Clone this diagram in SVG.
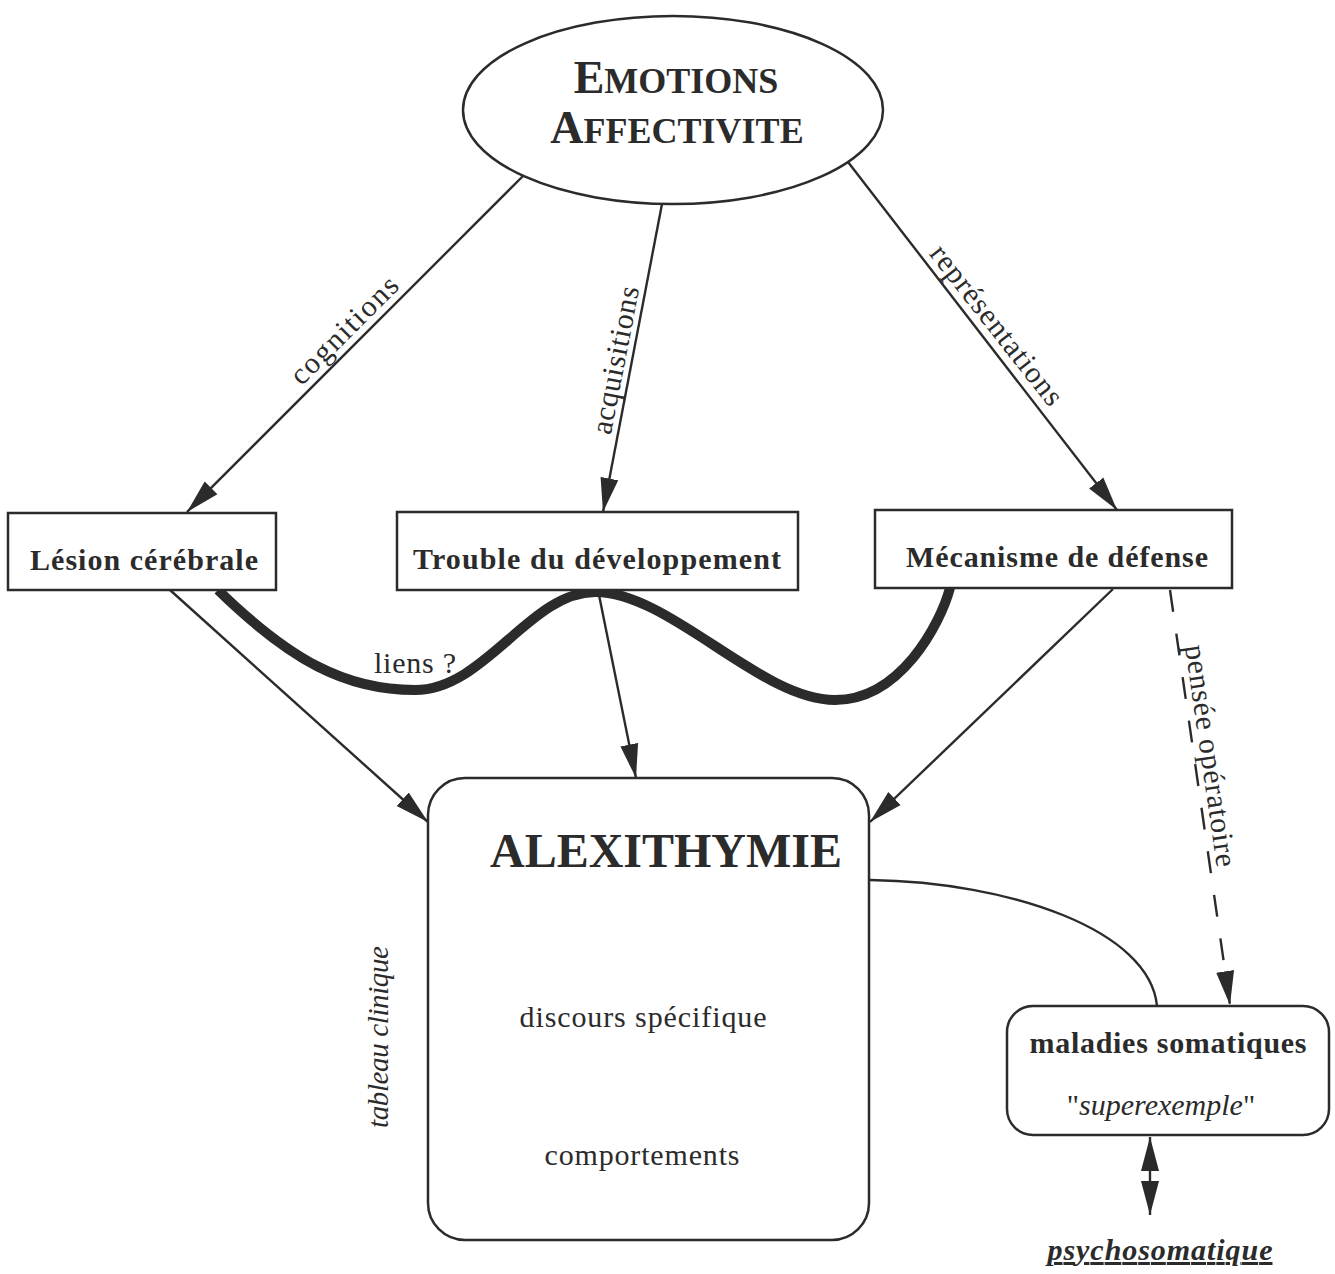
<svg xmlns="http://www.w3.org/2000/svg" width="1335" height="1274" viewBox="0 0 1335 1274">
<style>
  .t { font-family: "Liberation Serif", "Times New Roman", serif; fill: #2b2b2b; }
  .b { font-weight: bold; }
  .i { font-style: italic; }
  .box { fill: #ffffff; stroke: #2b2b2b; stroke-width: 2.5; }
  .ln { fill: none; stroke: #2b2b2b; stroke-width: 2.4; }
</style>
<defs>
  <marker id="ah" markerUnits="userSpaceOnUse" markerWidth="36" markerHeight="22" refX="34" refY="11" orient="auto">
    <path d="M0,2 L34,11 L0,20 z" fill="#2b2b2b"/>
  </marker>
  <marker id="ahs" markerUnits="userSpaceOnUse" markerWidth="36" markerHeight="22" refX="34" refY="11" orient="auto-start-reverse">
    <path d="M0,2 L34,11 L0,20 z" fill="#2b2b2b"/>
  </marker>
</defs>
<rect width="1335" height="1274" fill="#ffffff"/>

<g id="connectors">
  <line class="ln" x1="523" y1="176" x2="187" y2="512" marker-end="url(#ah)"/>
  <line class="ln" x1="662" y1="204" x2="603" y2="512" marker-end="url(#ah)"/>
  <line class="ln" x1="848" y1="162" x2="1117" y2="510" marker-end="url(#ah)"/>
  <line class="ln" x1="170" y1="590" x2="428" y2="822" marker-end="url(#ah)"/>
  <line class="ln" x1="598" y1="590" x2="636" y2="778" marker-end="url(#ah)"/>
  <line class="ln" x1="1113" y1="589" x2="870" y2="822" marker-end="url(#ah)"/>
  <path d="M218 590 C290 660 345 690 415 690 C485 690 530 592 595 592 C670 592 760 700 835 700 C900 700 940 625 950 588" fill="none" stroke="#2b2b2b" stroke-width="10"/>
  <path class="ln" d="M870 880 C1010 882 1150 930 1157 1006"/>
  <line class="ln" x1="1170" y1="590" x2="1230" y2="1005" stroke-dasharray="22 22" marker-end="url(#ah)"/>
  <line class="ln" x1="1150" y1="1137" x2="1150" y2="1215" marker-start="url(#ahs)" marker-end="url(#ah)"/>
  <text class="t" font-size="30" transform="translate(351,337) rotate(-45)" text-anchor="middle" textLength="140">cognitions</text>
  <text class="t" font-size="30" transform="translate(625,362) rotate(-79)" text-anchor="middle" textLength="150">acquisitions</text>
  <text class="t" font-size="30" transform="translate(989,331) rotate(51.8)" text-anchor="middle" textLength="196">représentations</text>
  <text class="t" font-size="30" transform="translate(1201,757) rotate(81.8)" text-anchor="middle" textLength="224">pensée opératoire</text>
  <text class="t" font-size="30" x="415" y="673" text-anchor="middle" textLength="82">liens ?</text>
</g>

<g id="emotions">
  <ellipse cx="673" cy="110" rx="210" ry="94" class="box"/>
  <text class="t b" x="676" y="93" text-anchor="middle"><tspan font-size="46">E</tspan><tspan font-size="36">MOTIONS</tspan></text>
  <text class="t b" x="677" y="143" text-anchor="middle"><tspan font-size="46">A</tspan><tspan font-size="36">FFECTIVITE</tspan></text>
</g>

<g id="lesion">
  <rect x="8" y="513" width="268" height="77" class="box"/>
  <text class="t b" font-size="30" x="144" y="570" text-anchor="middle" textLength="228">Lésion cérébrale</text>
</g>

<g id="trouble">
  <rect x="397" y="512" width="401" height="78" class="box"/>
  <text class="t b" font-size="30" x="597" y="569" text-anchor="middle" textLength="368">Trouble du développement</text>
</g>

<g id="mecanisme">
  <rect x="875" y="510" width="357" height="78" class="box"/>
  <text class="t b" font-size="30" x="1057" y="567" text-anchor="middle" textLength="302">Mécanisme de défense</text>
</g>

<g id="alexithymie">
  <rect x="428" y="778" width="441" height="462" rx="37" ry="37" class="box"/>
  <text class="t b" font-size="48" x="666" y="867" text-anchor="middle" textLength="352">ALEXITHYMIE</text>
  <text class="t" font-size="30" x="643" y="1027" text-anchor="middle" textLength="247">discours spécifique</text>
  <text class="t" font-size="30" x="642" y="1165" text-anchor="middle" textLength="195">comportements</text>
</g>

<g id="tableau">
  <text class="t i" font-size="29" transform="translate(388,1037) rotate(-90)" text-anchor="middle" textLength="182">tableau clinique</text>
</g>

<g id="maladies">
  <rect x="1007" y="1006" width="322" height="129" rx="26" ry="26" class="box"/>
  <text class="t b" font-size="30" x="1168" y="1053" text-anchor="middle" textLength="277">maladies somatiques</text>
  <text class="t" font-size="30" x="1161" y="1115" text-anchor="middle">"<tspan class="i">superexemple</tspan>"</text>
</g>

<g id="psychosomatique">
  <text class="t b i" font-size="30" x="1160" y="1260" text-anchor="middle" text-decoration="underline" textLength="225">psychosomatique</text>
</g>
</svg>
